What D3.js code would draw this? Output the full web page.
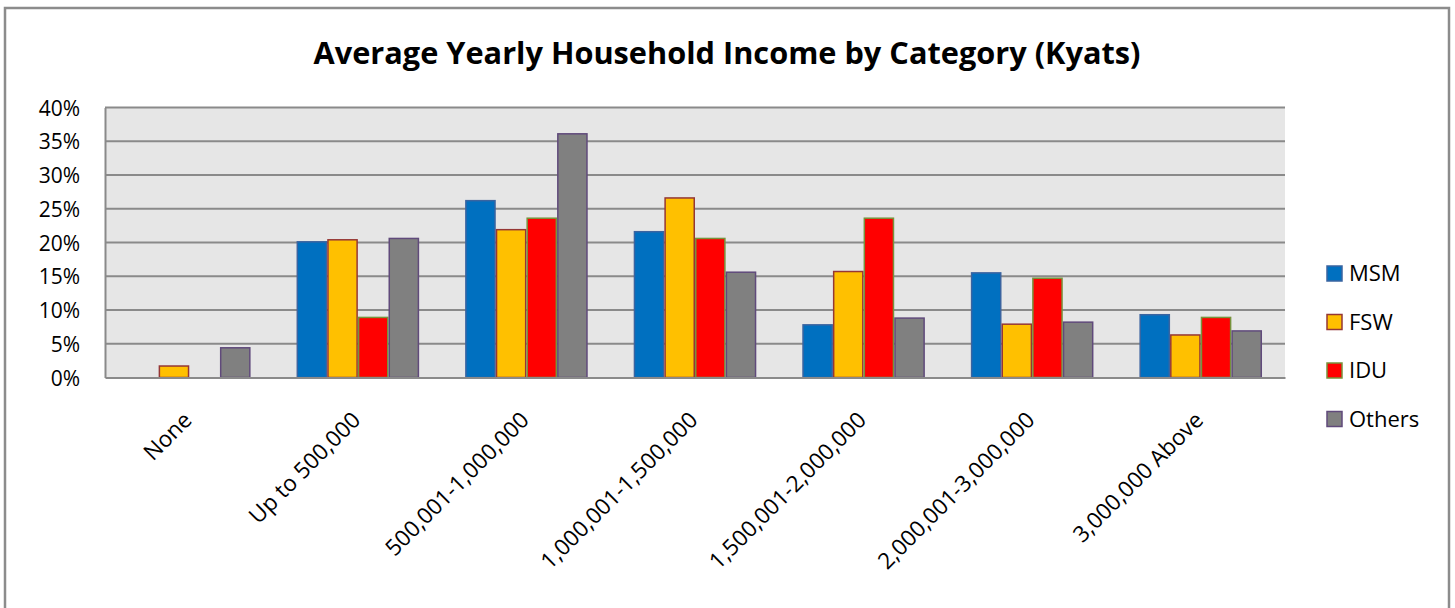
<!DOCTYPE html>
<html><head><meta charset="utf-8">
<script src="https://cdn.jsdelivr.net/npm/d3@7"></script>
<style>body{margin:0;background:#fff}svg{display:block}</style>
</head><body>
<script>
const categories = ["None","Up to 500,000","500,001-1,000,000","1,000,001-1,500,000","1,500,001-2,000,000","2,000,001-3,000,000","3,000,000 Above"];
const seriesNames = ["MSM","FSW","IDU","Others"];
const msm    = [0,   20.1, 26.2, 21.6, 7.8,  15.5, 9.3];
const fsw    = [1.7, 20.4, 21.9, 26.6, 15.7, 7.9,  6.3];
const idu    = [0,   8.9,  23.6, 20.6, 23.6, 14.7, 8.9];
const others = [4.4, 20.6, 36.1, 15.6, 8.8,  8.2,  6.9];
const yTicks = [0,5,10,15,20,25,30,35,40];
const title = "Average Yearly Household Income by Category (Kyats)";

const values = [msm, fsw, idu, others];
const fills = ["#0070C0","#FFC000","#FF0000","#808080"];
const strokes = ["#3A64A0","#953735","#77933C","#604A7B"];
const FONT = "'Open Sans', sans-serif";

const W = 1455, H = 608;
const svg = d3.select("body").append("svg").attr("width", W).attr("height", H);
svg.append("rect").attr("x",5).attr("y",8).attr("width",1444).attr("height",610)
  .attr("fill","#fff").attr("stroke","#8c8c8c").attr("stroke-width",2.5);

const L = 105, R = 1285, T = 107.5, B = 377.5;
const x = d3.scaleBand().domain(categories).range([L, R]).paddingInner(0).paddingOuter(0);
const gap = 1.5 / 5.5;
const xs = d3.scaleBand().domain(seriesNames).range([x.bandwidth()*gap/2, x.bandwidth()*(1-gap/2)]).padding(0);
const y = d3.scaleLinear().domain([0, 40]).range([B, T]);

svg.append("rect").attr("x",L).attr("y",T).attr("width",R-L).attr("height",B-T).attr("fill","#E6E6E6");

// gridlines
svg.append("g").selectAll("line").data(yTicks.filter(d=>d>0)).join("line")
  .attr("x1",L).attr("x2",R).attr("y1",d=>y(d)).attr("y2",d=>y(d))
  .attr("stroke","#8a8a8a").attr("stroke-width",2);

// y axis
const yAxis = svg.append("g").attr("transform",`translate(${L},0)`)
  .call(d3.axisLeft(y).tickValues(yTicks).tickFormat(d=>d+"%").tickSize(0).tickPadding(25));
yAxis.select(".domain").attr("stroke","#8a8a8a").attr("stroke-width",2);
yAxis.selectAll("text").attr("font-family",FONT).attr("font-size",21).attr("fill","#000").attr("dy","0.36em");

// bars
const groups = svg.append("g").selectAll("g").data(categories).join("g")
  .attr("transform", d=>`translate(${x(d)},0)`);
groups.selectAll("rect").data((c,i)=>seriesNames.map((s,j)=>({s, j, v: values[j][i]})))
  .join("rect")
  .filter(d=>d.v>0)
  .attr("x", d=>xs(d.s)+0.75).attr("width", xs.bandwidth()-1.5)
  .attr("y", d=>y(d.v)).attr("height", d=>B - y(d.v))
  .attr("fill", d=>fills[d.j]).attr("stroke", d=>strokes[d.j]).attr("stroke-width",1.5);

// x axis
const xAxis = svg.append("g").attr("transform",`translate(0,${B})`)
  .call(d3.axisBottom(x).tickSize(0).tickPadding(0));
xAxis.select(".domain").attr("stroke","#8a8a8a").attr("stroke-width",2);
xAxis.selectAll("text")
  .attr("font-family",FONT).attr("font-size",22.5).attr("fill","#000")
  .attr("text-anchor","end").attr("dy",0).attr("y",0)
  .attr("transform","translate(4,44) rotate(-45)");

// title
svg.append("text").attr("x",727).attr("y",64).attr("text-anchor","middle")
  .attr("font-family",FONT).attr("font-weight","bold").attr("font-size",31)
  .attr("textLength",827).attr("lengthAdjust","spacingAndGlyphs")
  .text(title);

// legend
const leg = svg.append("g").selectAll("g").data(seriesNames).join("g")
  .attr("transform",(d,i)=>`translate(1327,${273.5 + i*48.5})`);
leg.append("rect").attr("x",0).attr("y",-7.5).attr("width",15).attr("height",15)
  .attr("fill",(d,i)=>fills[i]).attr("stroke",(d,i)=>strokes[i]).attr("stroke-width",1.5);
leg.append("text").attr("x",22).attr("y",7.5)
  .attr("font-family",FONT).attr("font-size",22).attr("fill","#000")
  .text(d=>d);
</script>
</body></html>
